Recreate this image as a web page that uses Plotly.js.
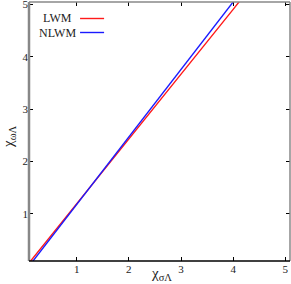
<!DOCTYPE html>
<html><head><meta charset="utf-8">
<script src="https://cdn.plot.ly/plotly-3.0.1.min.js"></script>
<style>html,body{margin:0;padding:0;background:#fff}#c{width:291px;height:284px}</style>
</head><body><div id="c"></div>
<script>
const seriesNames = ["LWM", "NLWM"];
const lwmX = [0.10, 1.0, 2.0, 3.0, 4.0, 4.2];
const lwmY = [0.08, 1.19, 2.43, 3.67, 4.91, 5.16];
const nlwmX = [0.10, 1.0, 2.0, 3.0, 4.0, 4.1];
const nlwmY = [0.02, 1.18, 2.47, 3.76, 5.05, 5.18];
const tickVals = [1, 2, 3, 4, 5];
const tickText = ["1", "2", "3", "4", "5"];

const L = 29, R = 289.7, T = 2, B = 261;
const px = x => (x - L) / (R - L);
const py = y => (B - y) / (B - T);
const serif = "Liberation Serif, Times New Roman, serif";

const traces = [
  {x: lwmX, y: lwmY, mode: "lines", line: {color: "#ff1a1a", width: 1.4}, showlegend: false, name: seriesNames[0]},
  {x: nlwmX, y: nlwmY, mode: "lines", line: {color: "#1a1aff", width: 1.4}, showlegend: false, name: seriesNames[1]}
];

const layout = {
  width: 291, height: 284,
  margin: {l: L, r: 291 - R, t: T, b: 284 - B, pad: 0},
  paper_bgcolor: "#fff", plot_bgcolor: "#fff",
  showlegend: false,
  xaxis: {range: [0.085, 5.09], tickvals: tickVals, ticktext: tickText, ticks: "inside", ticklen: 4,
    tickcolor: "#000", showline: false, zeroline: false, showgrid: false, mirror: "ticks",
    ticklabeloverflow: "allow",
    tickfont: {family: serif, size: 11, color: "#222"}, automargin: false},
  yaxis: {range: [0.1, 5.05], tickvals: tickVals, ticktext: tickText, ticks: "inside", ticklen: 4,
    tickcolor: "#000", showline: false, zeroline: false, showgrid: false, mirror: "ticks",
    ticklabeloverflow: "allow",
    tickfont: {family: serif, size: 11, color: "#222"}, automargin: false},
  shapes: [
    {type: "line", xref: "paper", yref: "paper", x0: 0, x1: 1, y0: 1, y1: 1, line: {color: "#888", width: 1.5}},
    {type: "line", xref: "paper", yref: "paper", x0: 1, x1: 1, y0: 0, y1: 1, line: {color: "#888", width: 1.5}},
    {type: "line", xref: "paper", yref: "paper", x0: 0, x1: 0, y0: 0, y1: 1, line: {color: "#888", width: 2.5}},
    {type: "line", xref: "paper", yref: "paper", x0: 0, x1: 1, y0: 0, y1: 0, line: {color: "#000", width: 1.5}},
    {type: "line", xref: "paper", yref: "paper", x0: px(80), x1: px(104), y0: py(18.5), y1: py(18.5), line: {color: "#ff1a1a", width: 1.4}},
    {type: "line", xref: "paper", yref: "paper", x0: px(80), x1: px(104), y0: py(32.5), y1: py(32.5), line: {color: "#1a1aff", width: 1.4}}
  ],
  annotations: [
    {xref: "paper", yref: "paper", x: px(74), y: py(18.5), xanchor: "right", yanchor: "middle", showarrow: false,
      text: seriesNames[0], font: {family: serif, size: 12, color: "#222"}},
    {xref: "paper", yref: "paper", x: px(78), y: py(32.5), xanchor: "right", yanchor: "middle", showarrow: false,
      text: seriesNames[1], font: {family: serif, size: 12, color: "#222"}},
    {xref: "paper", yref: "paper", x: px(161), y: py(273.5), xanchor: "center", yanchor: "middle", showarrow: false,
      text: "χ<sub>σΛ</sub>", font: {family: serif, size: 15, color: "#222"}},
    {xref: "paper", yref: "paper", x: px(9), y: py(136), xanchor: "center", yanchor: "middle", showarrow: false, textangle: -90,
      text: "χ<sub>ωΛ</sub>", font: {family: serif, size: 15, color: "#222"}}
  ]
};
Plotly.newPlot("c", traces, layout, {staticPlot: true, displayModeBar: false});
</script></body></html>
